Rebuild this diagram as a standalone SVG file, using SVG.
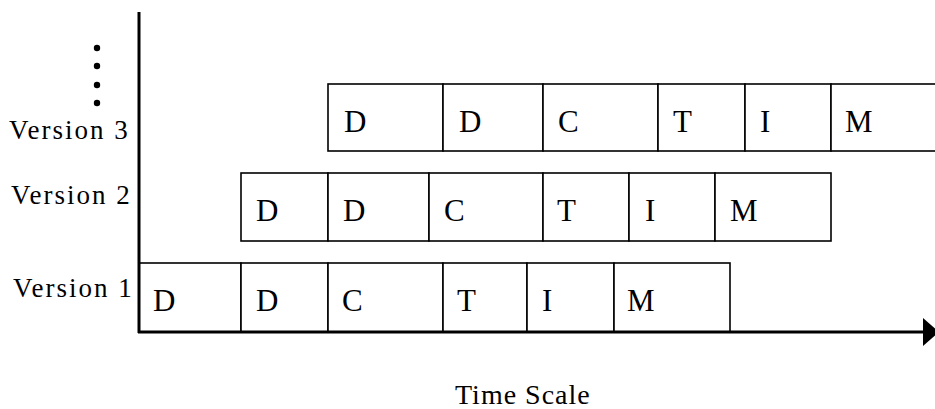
<svg xmlns="http://www.w3.org/2000/svg" width="935" height="409" viewBox="0 0 935 409">
<style>
.cell{fill:#fff;stroke:#000;stroke-width:1.6}
.lt{font-family:"Liberation Serif","Times New Roman",serif;font-size:31px;fill:#000}
.lab{font-family:"Liberation Serif","Times New Roman",serif;font-size:27px;letter-spacing:2px;fill:#000}
.ax{stroke:#000;stroke-width:3;fill:none}
</style>
<rect width="935" height="409" fill="#fff"/>
<g id="labels">
<text class="lab" x="9" y="139">Version 3</text>
<text class="lab" x="11" y="204">Version 2</text>
<text class="lab" x="13" y="297">Version 1</text>
<text class="lab" x="455" y="404" style="font-size:28px;letter-spacing:1px">Time Scale</text>
</g>
<g id="dots">
<circle cx="97" cy="48" r="3.2"/>
<circle cx="97" cy="66" r="3.2"/>
<circle cx="97" cy="85" r="3.2"/>
<circle cx="97" cy="103" r="3.2"/>
</g>
<g id="version3">
<rect class="cell" x="328" y="84" width="115" height="67"/>
<rect class="cell" x="443" y="84" width="100" height="67"/>
<rect class="cell" x="543" y="84" width="115" height="67"/>
<rect class="cell" x="658" y="84" width="87" height="67"/>
<rect class="cell" x="745" y="84" width="86" height="67"/>
<rect class="cell" x="831" y="84" width="115" height="67"/>
<text class="lt" x="344" y="132">D</text>
<text class="lt" x="459" y="132">D</text>
<text class="lt" x="558" y="132">C</text>
<text class="lt" x="673" y="132">T</text>
<text class="lt" x="760" y="132">I</text>
<text class="lt" x="845" y="132">M</text>
</g>
<g id="version2">
<rect class="cell" x="241" y="173" width="87" height="68"/>
<rect class="cell" x="328" y="173" width="101" height="68"/>
<rect class="cell" x="429" y="173" width="114" height="68"/>
<rect class="cell" x="543" y="173" width="86" height="68"/>
<rect class="cell" x="629" y="173" width="86" height="68"/>
<rect class="cell" x="715" y="173" width="116" height="68"/>
<text class="lt" x="256" y="221">D</text>
<text class="lt" x="343" y="221">D</text>
<text class="lt" x="444" y="221">C</text>
<text class="lt" x="557" y="221">T</text>
<text class="lt" x="645" y="221">I</text>
<text class="lt" x="730" y="221">M</text>
</g>
<g id="version1">
<rect class="cell" x="139" y="263" width="102" height="69"/>
<rect class="cell" x="241" y="263" width="87" height="69"/>
<rect class="cell" x="328" y="263" width="115" height="69"/>
<rect class="cell" x="443" y="263" width="84" height="69"/>
<rect class="cell" x="527" y="263" width="87" height="69"/>
<rect class="cell" x="614" y="263" width="116" height="69"/>
<text class="lt" x="153" y="311">D</text>
<text class="lt" x="256" y="311">D</text>
<text class="lt" x="342" y="311">C</text>
<text class="lt" x="457" y="311">T</text>
<text class="lt" x="542" y="311">I</text>
<text class="lt" x="627" y="311">M</text>
</g>
<g id="connectors">
<line class="ax" x1="139" y1="12" x2="139" y2="333"/>
<line class="ax" x1="138" y1="332" x2="926" y2="332"/>
<polygon points="923,318 939,332 923,346" fill="#000"/>
</g>
</svg>
